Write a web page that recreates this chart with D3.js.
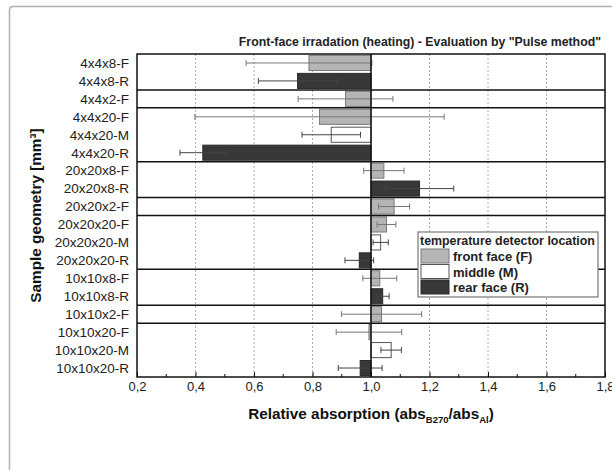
<!DOCTYPE html>
<html>
<head>
<meta charset="utf-8">
<script src="https://cdn.jsdelivr.net/npm/d3@7"></script>
<style>
  body { margin: 0; background: #fff; }
  svg { display: block; font-family: "Liberation Sans", Arial, sans-serif; }
</style>
</head>
<body>
<div id="chart"></div>
<script>
// sample names, suffix = detector location (F / M / R)
const samples = [
  '4x4x8-F', '4x4x8-R', '4x4x2-F', '4x4x20-F', '4x4x20-M', '4x4x20-R',
  '20x20x8-F', '20x20x8-R', '20x20x2-F', '20x20x20-F', '20x20x20-M', '20x20x20-R',
  '10x10x8-F', '10x10x8-R', '10x10x2-F', '10x10x20-F', '10x10x20-M', '10x10x20-R'
];
// relative absorption values
const values = [
  0.788, 0.749, 0.913, 0.824, 0.864, 0.425,
  1.044, 1.166, 1.079, 1.053, 1.033, 0.960,
  1.030, 1.040, 1.036, 0.993, 1.069, 0.963
];
// +/- error
const errors = [
  0.215, 0.134, 0.162, 0.426, 0.100, 0.078,
  0.069, 0.117, 0.053, 0.032, 0.026, 0.049,
  0.058, 0.022, 0.137, 0.112, 0.035, 0.075
];
const xTicks = [0.2, 0.4, 0.6, 0.8, 1.0, 1.2, 1.4, 1.6, 1.8];
const legendItems = [
  { key: 'F', label: 'front face (F)' },
  { key: 'M', label: 'middle (M)' },
  { key: 'R', label: 'rear face (R)' }
];

const fills = { F: '#b5b5b5', M: '#ffffff', R: '#383838' };
const strokes = { F: '#7a7a7a', M: '#555', R: '#2a2a2a' };
const errColor = { F: '#777', M: '#444', R: '#444' };

const width = 612, height = 470;
const plotL = 137, plotR = 605, plotT = 54, plotB = 377;

const data = samples.map((s, i) => ({
  name: s,
  value: values[i],
  err: errors[i],
  loc: s.split('-').pop(),
  group: s.split('-')[0]
}));

const svg = d3.select('#chart').append('svg')
    .attr('width', width)
    .attr('height', height);

// outer figure frame
svg.append('path')
    .attr('d', `M9.5,${height} L9.5,10 Q9.5,6.5 13,6.5 L${width},6.5`)
    .attr('fill', 'none')
    .attr('stroke', '#b0b0b0')
    .attr('stroke-width', 1.5);

const x = d3.scaleLinear().domain([0.2, 1.8]).range([plotL, plotR]);
const y = d3.scaleBand().domain(samples).range([plotT, plotB]).padding(0);
const bh = y.bandwidth() * 0.84;
const fmt = v => d3.format('.1f')(v).replace('.', ',');

// dashed grid
svg.append('g')
  .selectAll('line')
  .data(xTicks.filter(t => t > 0.2 && t < 1.8 && Math.abs(t - 1) > 1e-6))
  .join('line')
    .attr('x1', d => x(d)).attr('x2', d => x(d))
    .attr('y1', plotT).attr('y2', plotB)
    .attr('stroke', '#999')
    .attr('stroke-width', 0.8)
    .attr('stroke-dasharray', '2,2');

// bars
svg.append('g')
  .selectAll('rect')
  .data(data)
  .join('rect')
    .attr('x', d => x(Math.min(1, d.value)))
    .attr('width', d => Math.abs(x(d.value) - x(1)))
    .attr('y', d => y(d.name) + (y.bandwidth() - bh) / 2)
    .attr('height', bh)
    .attr('fill', d => fills[d.loc])
    .attr('stroke', d => strokes[d.loc])
    .attr('stroke-width', 1);

// error bars
const eb = svg.append('g')
  .selectAll('g')
  .data(data)
  .join('g')
    .attr('stroke', d => errColor[d.loc])
    .attr('stroke-width', 1);
eb.append('line')
    .attr('x1', d => x(d.value - d.err)).attr('x2', d => x(d.value + d.err))
    .attr('y1', d => y(d.name) + y.bandwidth() / 2)
    .attr('y2', d => y(d.name) + y.bandwidth() / 2);
eb.selectAll('line.cap')
  .data(d => [d.value - d.err, d.value + d.err].map(v => ({ v, d })))
  .join('line')
    .attr('class', 'cap')
    .attr('x1', c => x(c.v)).attr('x2', c => x(c.v))
    .attr('y1', c => y(c.d.name) + y.bandwidth() / 2 - 3)
    .attr('y2', c => y(c.d.name) + y.bandwidth() / 2 + 3);

// group separators
const breaks = data.filter((d, i) => i > 0 && data[i - 1].group !== d.group);
svg.append('g')
  .selectAll('line')
  .data(breaks)
  .join('line')
    .attr('x1', plotL).attr('x2', plotR)
    .attr('y1', d => y(d.name)).attr('y2', d => y(d.name))
    .attr('stroke', '#111')
    .attr('stroke-width', 1.5);

// baseline at 1.0
svg.append('line')
    .attr('x1', x(1)).attr('x2', x(1))
    .attr('y1', plotT).attr('y2', plotB)
    .attr('stroke', '#111')
    .attr('stroke-width', 1.5);

// frame
svg.append('rect')
    .attr('x', plotL).attr('y', plotT)
    .attr('width', plotR - plotL).attr('height', plotB - plotT)
    .attr('fill', 'none')
    .attr('stroke', '#111')
    .attr('stroke-width', 1.5);

// x axis
const xAxis = svg.append('g')
    .attr('transform', `translate(0,${plotB})`)
    .call(d3.axisBottom(x).tickValues(xTicks).tickFormat(fmt).tickSizeInner(-5).tickSizeOuter(0));
xAxis.select('.domain').remove();
xAxis.selectAll('.tick line').attr('stroke', '#111');
xAxis.selectAll('.tick text')
    .attr('y', 5)
    .attr('font-size', 13)
    .attr('font-family', '"Liberation Sans", Arial, sans-serif')
    .attr('fill', '#222');
// minor ticks
svg.append('g')
  .selectAll('line')
  .data(d3.range(0.3, 1.8, 0.2))
  .join('line')
    .attr('x1', d => x(d)).attr('x2', d => x(d))
    .attr('y1', plotB).attr('y2', plotB - 3)
    .attr('stroke', '#111');

// y labels
svg.append('g')
  .selectAll('text')
  .data(data)
  .join('text')
    .attr('x', plotL - 8)
    .attr('y', d => y(d.name) + y.bandwidth() / 2)
    .attr('dy', '0.36em')
    .attr('text-anchor', 'end')
    .attr('font-size', 13.5)
    .attr('fill', '#222')
    .text(d => d.name);

// title
svg.append('text')
    .attr('x', 601).attr('y', 46)
    .attr('text-anchor', 'end')
    .attr('font-size', 12.3)
    .attr('font-weight', 'bold')
    .attr('fill', '#222')
    .text('Front-face irradation (heating) - Evaluation by "Pulse method"');

// axis titles
const xt = svg.append('text')
    .attr('x', (plotL + plotR) / 2).attr('y', 419)
    .attr('text-anchor', 'middle')
    .attr('font-size', 15.3)
    .attr('font-weight', 'bold')
    .attr('fill', '#111');
xt.append('tspan').text('Relative absorption (abs');
xt.append('tspan').attr('font-size', 9.5).attr('dy', 4).text('B270');
xt.append('tspan').attr('dy', -4).text('/abs');
xt.append('tspan').attr('font-size', 9.5).attr('dy', 4).text('Al');
xt.append('tspan').attr('dy', -4).text(')');

svg.append('text')
    .attr('transform', `translate(41,${(plotT + plotB) / 2}) rotate(-90)`)
    .attr('text-anchor', 'middle')
    .attr('font-size', 15.3)
    .attr('font-weight', 'bold')
    .attr('fill', '#111')
    .text('Sample geometry [mm³]');

// legend
const lg = svg.append('g').attr('transform', 'translate(418,232)');
lg.append('rect')
    .attr('width', 180).attr('height', 65)
    .attr('fill', '#fff')
    .attr('stroke', '#777')
    .attr('stroke-width', 1.2);
lg.append('text')
    .attr('x', 2).attr('y', 13)
    .attr('font-size', 12.4)
    .attr('font-weight', 'bold')
    .attr('fill', '#222')
    .text('temperature detector location');
const li = lg.selectAll('g.item')
  .data(legendItems)
  .join('g')
    .attr('class', 'item')
    .attr('transform', (d, i) => `translate(3,${17 + i * 15.5})`);
li.append('rect')
    .attr('width', 28).attr('height', 14)
    .attr('fill', d => fills[d.key])
    .attr('stroke', d => strokes[d.key]);
li.append('text')
    .attr('x', 32).attr('y', 12)
    .attr('font-size', 13)
    .attr('font-weight', 'bold')
    .attr('fill', '#222')
    .text(d => d.label);
</script>
</body>
</html>
